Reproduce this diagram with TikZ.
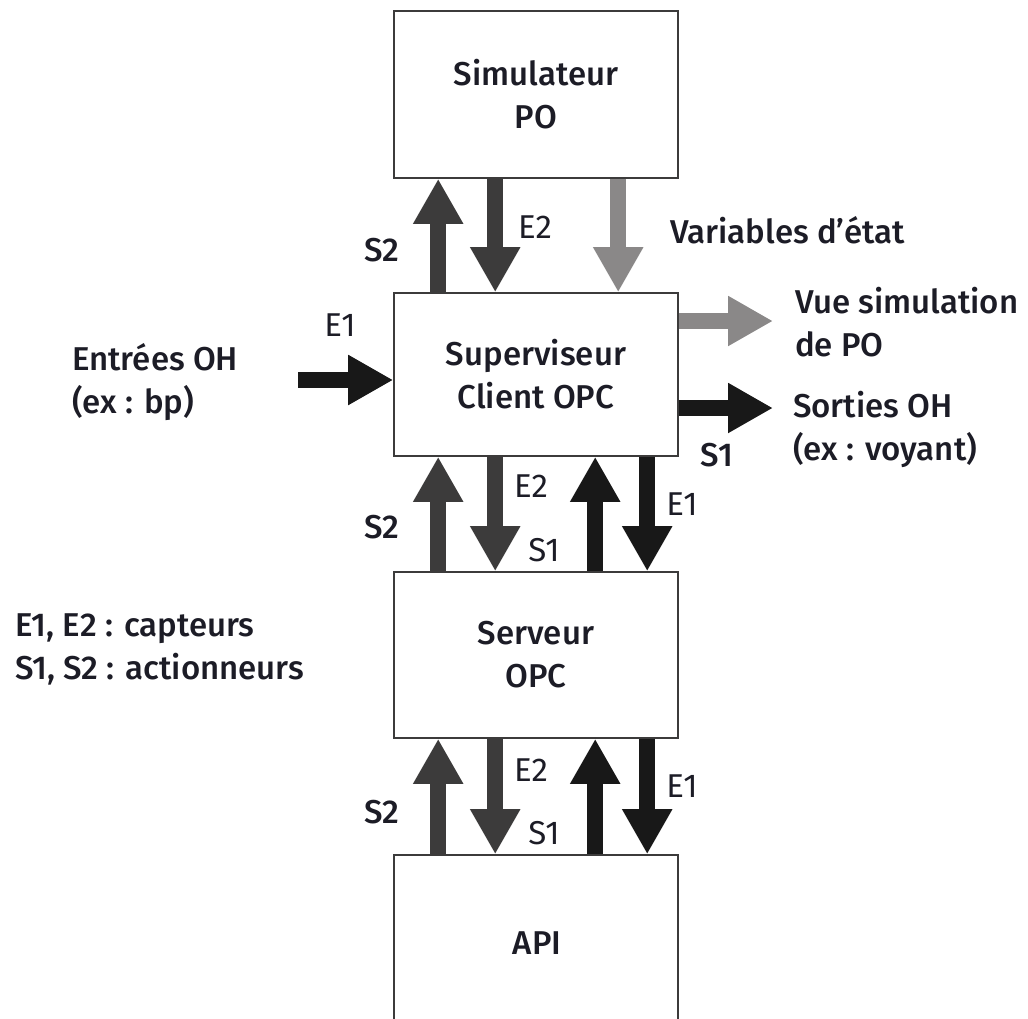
\documentclass[tikz,border=0pt]{standalone}
\usepackage{fontspec}
\setmainfont{Fira Sans}[UprightFont=* Medium]
\newfontfamily\sigfont{Fira Sans}
\usetikzlibrary{arrows.meta}
\definecolor{txt}{HTML}{1C1C26}
\definecolor{dk}{HTML}{3C3B3B}
\definecolor{bk}{HTML}{181818}
\definecolor{lt}{HTML}{8A8888}
\tikzset{
  box/.style={draw=dk,line width=1.6pt,minimum width=284pt,align=center,text=txt},
  fat/.style={line width=16pt,-{Triangle[width=47pt,length=45pt]}},
  lbl/.style={text=txt,inner sep=0pt},
  sig/.style={lbl,font=\sigfont\fontsize{33}{43}\selectfont}
}
\begin{document}
\begin{tikzpicture}[x=1pt,y=-1pt,every node/.style={font=\fontsize{33}{43}\selectfont}]
\clip (0,0) rectangle (1028,1018);
\fill[white] (0,0) rectangle (1028,1018);
% boxes
\node[box,minimum height=167pt] (sim) at (536,94.5) {Simulateur\\PO};
\node[box,minimum height=163pt] (sup) at (536,374.5) {Superviseur\\Client OPC};
\node[box,minimum height=166pt] (serv) at (536,655) {Serveur\\OPC};
\node[box,minimum height=240pt,text depth=0pt] (api) at (536,975) {};
\node[lbl] (apitxt) at (537,943) {API};
% between simulator and supervisor
\draw[fat,dk] ([xshift=45pt]sup.north west) -- ([xshift=45pt]sim.south west);
\draw[fat,dk] ([xshift=102pt]sim.south west) -- ([xshift=102pt]sup.north west);
\draw[fat,lt] ([xshift=225pt]sim.south west) -- ([xshift=225pt]sup.north west);
\node[lbl] (s2a) at (382,250) {S2};
\node[sig] (e2a) at (535,227) {E2};
\node[lbl,anchor=west] (var) at (670,230) {Variables d'état};
% supervisor inputs and outputs
\coordinate (inE) at (298,380);
\draw[fat,bk] (inE) -- (inE -| sup.west);
\node[sig] (e1in) at (340,325) {E1};
\node[lbl,anchor=west,align=left] (ent) at (72,382) {Entrées OH\\(ex : bp)};
\coordinate (vueE) at (773,321);
\coordinate (sorE) at (773,408);
\draw[fat,lt] (vueE -| sup.east) -- (vueE);
\draw[fat,bk] (sorE -| sup.east) -- (sorE);
\node[lbl,anchor=west,align=left] (vue) at (795,322) {Vue simulation\\de PO};
\node[lbl,anchor=west,align=left] (sor) at (793,429) {Sorties OH\\(ex : voyant)};
\node[lbl] (s1out) at (717,455) {S1};
% between supervisor and server
\draw[fat,dk] ([xshift=45pt]serv.north west) -- ([xshift=45pt]sup.south west);
\draw[fat,dk] ([xshift=102pt]sup.south west) -- ([xshift=102pt]serv.north west);
\draw[fat,bk] ([xshift=202pt]serv.north west) -- ([xshift=202pt]sup.south west);
\draw[fat,bk] ([xshift=254pt]sup.south west) -- ([xshift=254pt]serv.north west);
\node[lbl] (s2b) at (382,527) {S2};
\node[sig] (e2b) at (531,486) {E2};
\node[sig] (s1b) at (544,550) {S1};
\node[sig] (e1b) at (682,504) {E1};
% between server and API
\draw[fat,dk] ([xshift=45pt]api.north west) -- ([xshift=45pt]serv.south west);
\draw[fat,dk] ([xshift=102pt]serv.south west) -- ([xshift=102pt]api.north west);
\draw[fat,bk] ([xshift=202pt]api.north west) -- ([xshift=202pt]serv.south west);
\draw[fat,bk] ([xshift=254pt]serv.south west) -- ([xshift=254pt]api.north west);
\node[lbl] (s2c) at (382,812) {S2};
\node[sig] (e2c) at (531,770) {E2};
\node[sig] (s1c) at (544,833) {S1};
\node[sig] (e1c) at (682,786) {E1};
% legend
\node[lbl,anchor=west,align=left] (leg) at (15,649) {E1, E2 : capteurs\\S1, S2 : actionneurs};
\end{tikzpicture}
\end{document}
